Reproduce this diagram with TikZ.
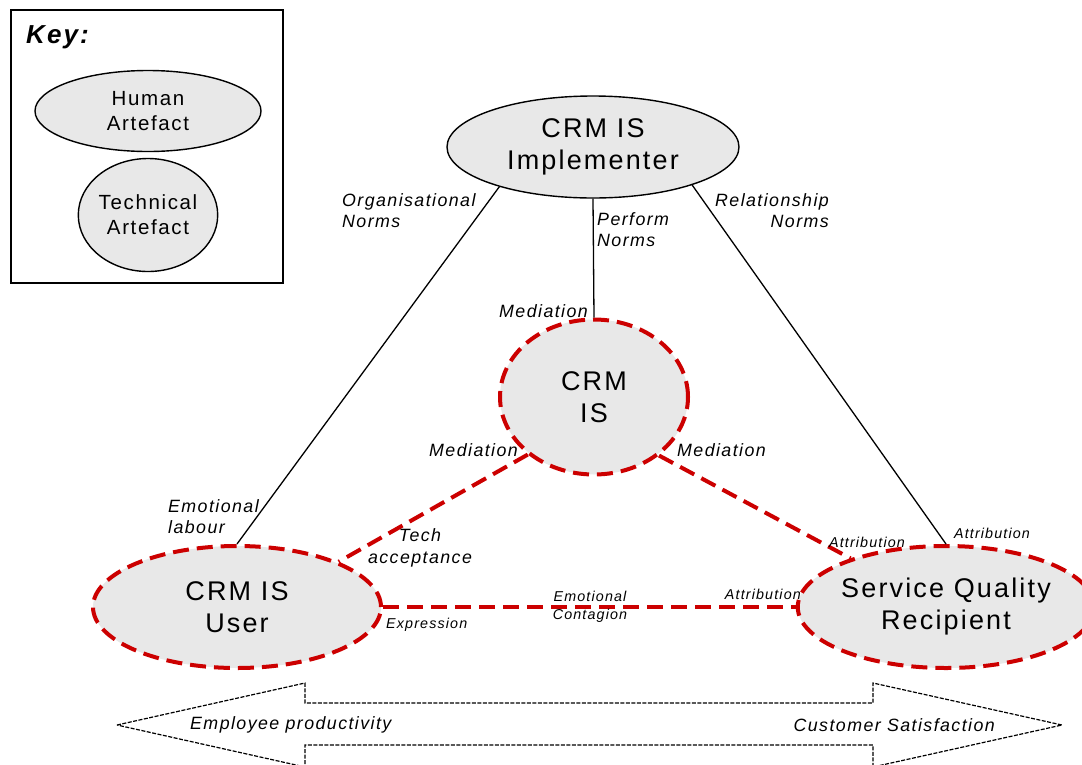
\documentclass[tikz,border=0pt]{standalone}
\usepackage{fontspec}
\setmainfont{Liberation Sans}[LetterSpace=8]
\usetikzlibrary{shapes.geometric}

\definecolor{crmred}{RGB}{204,0,0}
\definecolor{artgray}{RGB}{232,232,232}
\newcommand\bigsz{\fontsize{27}{32}\selectfont}
\newcommand\keysz{\fontsize{20.5}{25}\selectfont}
\newcommand\midsz{\fontsize{17.8}{21.5}\selectfont\itshape}
\newcommand\smsz{\fontsize{14.3}{17.5}\selectfont\itshape}

\tikzset{
  human/.style={ellipse, draw=black, line width=1.4pt, fill=artgray, inner sep=0pt, align=center},
  techart/.style={human},
  redart/.style={ellipse, draw=crmred, line width=4pt, dash pattern=on 16pt off 8pt, fill=artgray, inner sep=0pt, align=center, font=\bigsz},
  tie/.style={draw=black, line width=1.3pt},
  redtie/.style={draw=crmred, line width=4pt, dash pattern=on 16pt off 8pt},
  lbl/.style={inner sep=0pt, font=\midsz},
  sml/.style={inner sep=0pt, font=\smsz}
}

\begin{document}
\begin{tikzpicture}[x=1pt,y=-1pt]
\useasboundingbox (0,0) rectangle (1082,764);

% key
\node[draw=black, line width=1.4pt, minimum width=272pt, minimum height=273pt] (keybox) at (147,146.5) {};
\node[anchor=west, inner sep=0pt, font=\fontsize{26}{30}\selectfont\bfseries\itshape] (keytitle) at (26,37) {Key:};
\node[human, minimum width=226pt, minimum height=81pt, font=\keysz] (keyhuman) at (148,111) {Human\\Artefact};
\node[techart, minimum width=125pt, minimum height=113pt, font=\keysz] (keytech) at (148,215) {Technical\\Artefact};

% artefacts
\node[human, minimum width=292pt, minimum height=102pt, font=\bigsz] (impl) at (593,147) {CRM IS\\Implementer};
\node[redart, minimum width=188pt, minimum height=155pt] (crm) at (594,397) {CRM\\IS};
\node[redart, minimum width=288pt, minimum height=122pt] (user) at (237,607) {CRM IS\\User};
\node[redart, minimum width=284pt, minimum height=122pt] (sqr) at (946,607) {Service Quality\\Recipient};

% links
\draw[tie] (impl.203) -- (user.north);
\draw[tie] (impl.south) -- (crm.north);
\draw[tie] (impl.339) -- (sqr.north);
\draw[redtie] (crm.221) -- (user.24);
\draw[redtie] (crm.318) -- (sqr.153);
\draw[redtie] (user.east) -- (sqr.west);

% link labels
\node[lbl, anchor=north west, align=left] (orgnorms) at (342,193) {Organisational\\Norms};
\node[lbl, anchor=north west, align=left] (perfnorms) at (597,212) {Perform\\Norms};
\node[lbl, anchor=north east, align=right] (relnorms) at (829,193) {Relationship\\Norms};
\node[lbl, anchor=east] (medtop) at (588,311) {Mediation};
\node[lbl, anchor=east] (medleft) at (518,450) {Mediation};
\node[lbl, anchor=west] (medright) at (677,450) {Mediation};
\node[lbl, anchor=north west, align=left] (emolab) at (168,499) {Emotional\\labour};
\node[lbl, align=center] (techacc) at (420,548) {Tech\\acceptance};
\node[sml, align=center] (contagion) at (590,607) {Emotional\\Contagion};
\node[sml, anchor=west] (express) at (386,625) {Expression};
\node[sml, anchor=east] (attrleft) at (801,594) {Attribution};
\node[sml] (attrmid) at (867,542) {Attribution};
\node[sml] (attrtop) at (992,533) {Attribution};

% outcome arrow
\draw[black, line width=1.2pt, dash pattern=on 4pt off 1.5pt]
  (117,725) -- (305,683) -- (305,703) -- (873,703) -- (873,683) -- (1062,725)
  -- (873,767) -- (873,745) -- (305,745) -- (305,767) -- cycle;
\node[sml, font=\fontsize{17.8}{21}\selectfont\itshape, anchor=west] (prod) at (190,725) {Employee productivity};
\node[sml, font=\fontsize{17.8}{21}\selectfont\itshape, anchor=east] (satis) at (995,725) {Customer Satisfaction};
\end{tikzpicture}
\end{document}
